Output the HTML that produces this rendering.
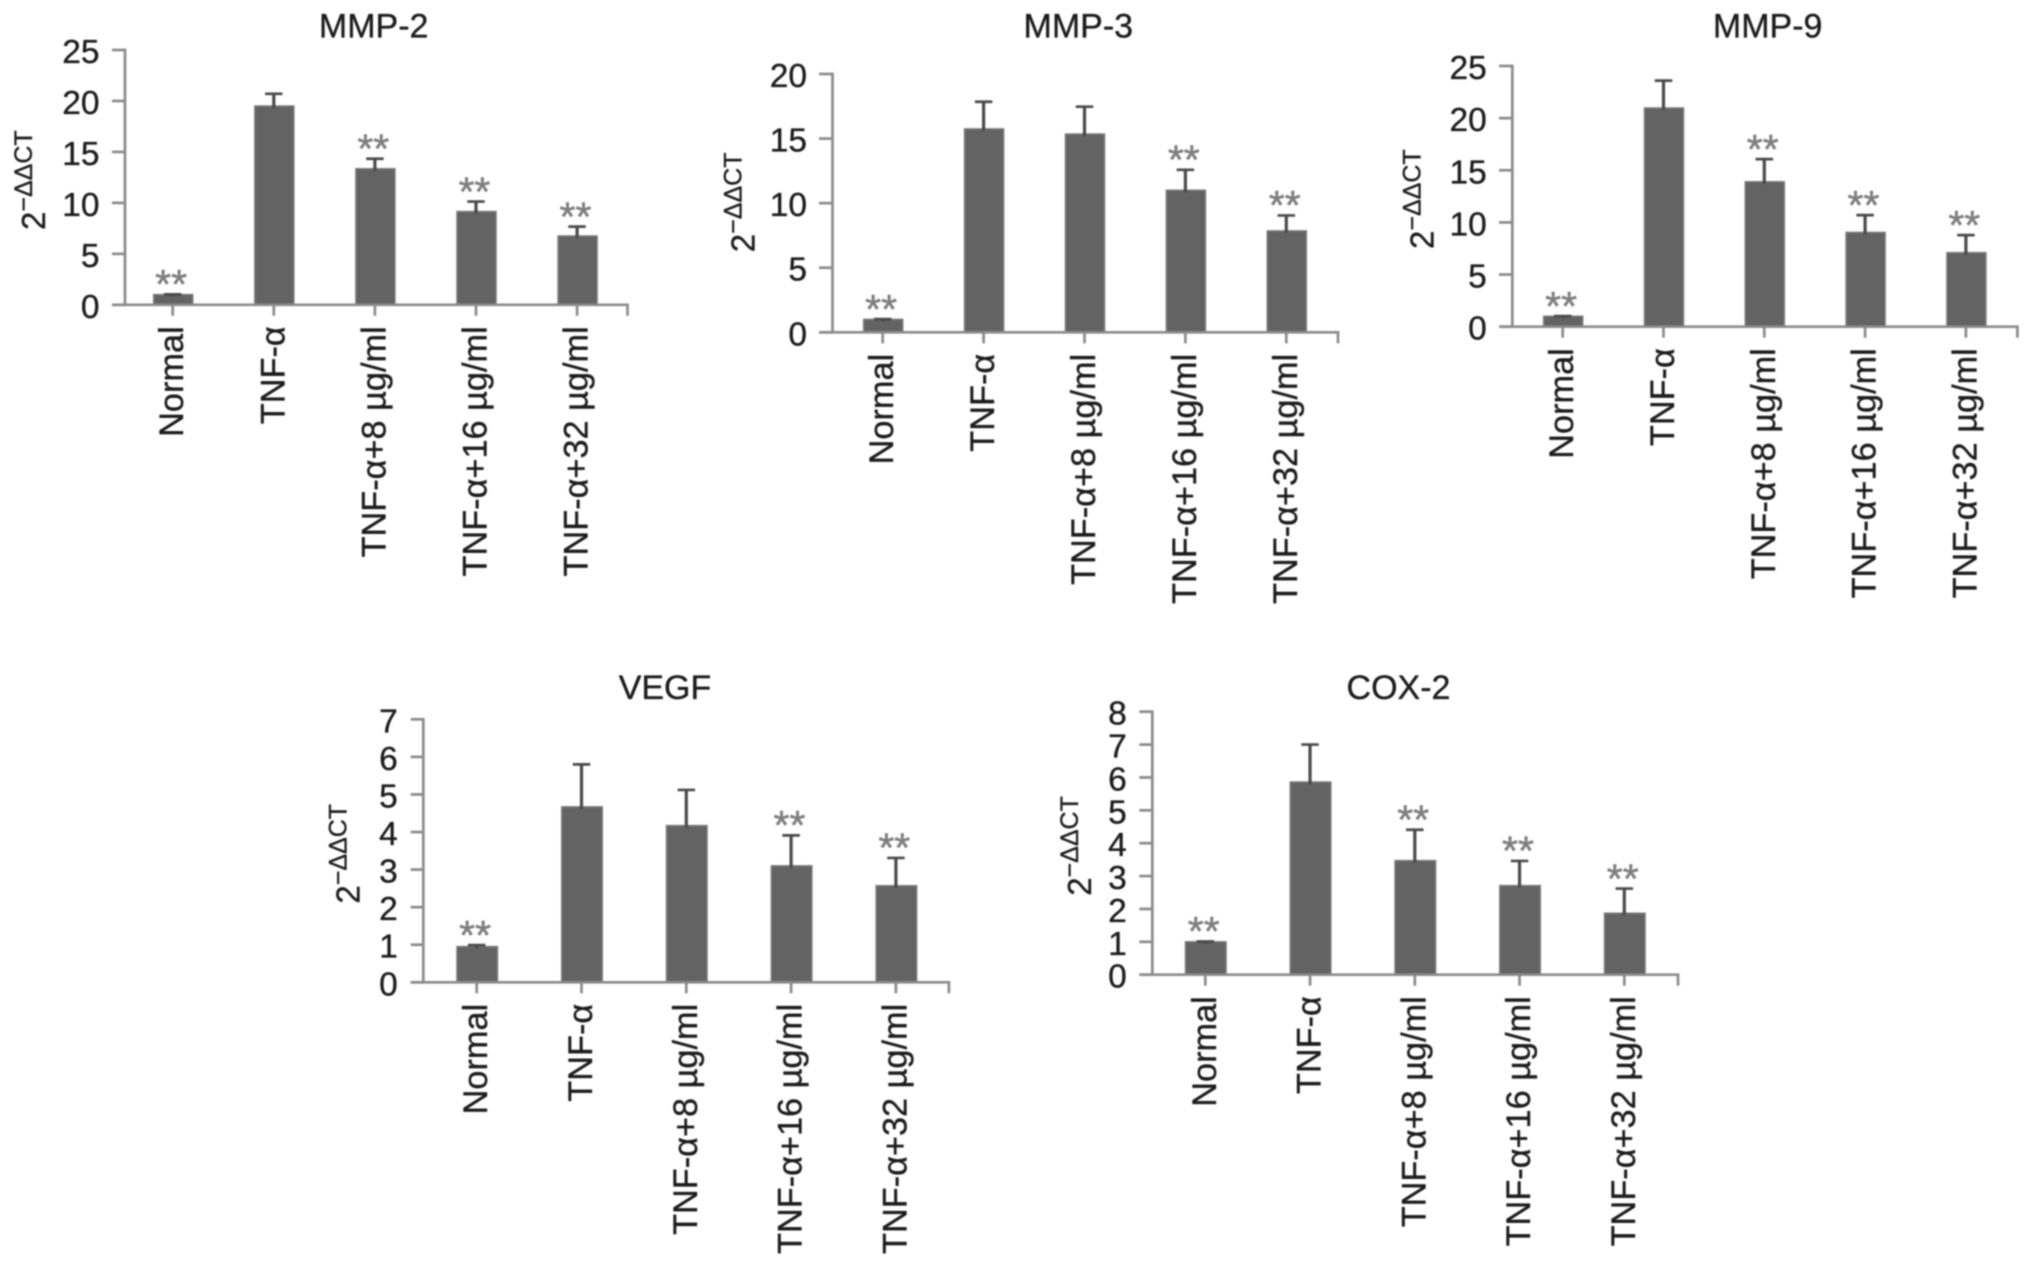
<!DOCTYPE html>
<html lang="en">
<head>
<meta charset="utf-8">
<title>Relative expression of MMP-2, MMP-3, MMP-9, VEGF and COX-2</title>
<style>
  html, body { margin: 0; padding: 0; background: #fff; }
  body { width: 2032px; height: 1267px; overflow: hidden; }
  #figure { display: block; filter: blur(0.7px); }
  text { font-family: "Liberation Sans", "DejaVu Sans", sans-serif; fill: #1c1c1c; stroke: #1c1c1c; stroke-width: 0.35px; }
</style>
</head>
<body>
<svg id="figure" xmlns="http://www.w3.org/2000/svg" width="2032" height="1267" viewBox="0 0 2032 1267">
  <rect x="0" y="0" width="2032" height="1267" fill="#ffffff"></rect>
</svg>
<script>
// ---- chart data ----
const categories = ['Normal', 'TNF-α', 'TNF-α+8 µg/ml', 'TNF-α+16 µg/ml', 'TNF-α+32 µg/ml'];

const mmp2Ticks = [0, 5, 10, 15, 20, 25];
const mmp2Means = [1.0, 19.5, 13.35, 9.15, 6.75];
const mmp2Errors = [0.02, 1.2, 0.98, 0.98, 0.92];
const mmp2Stars = [true, false, true, true, true];

const mmp3Ticks = [0, 5, 10, 15, 20];
const mmp3Means = [1.0, 15.75, 15.35, 11.0, 7.85];
const mmp3Errors = [0.02, 2.1, 2.12, 1.58, 1.2];
const mmp3Stars = [true, false, false, true, true];

const mmp9Ticks = [0, 5, 10, 15, 20, 25];
const mmp9Means = [1.0, 20.97, 13.9, 9.04, 7.1];
const mmp9Errors = [0.02, 2.63, 2.17, 1.66, 1.68];
const mmp9Stars = [true, false, true, true, true];

const vegfTicks = [0, 1, 2, 3, 4, 5, 6, 7];
const vegfMeans = [0.95, 4.67, 4.17, 3.1, 2.57];
const vegfErrors = [0.04, 1.13, 0.95, 0.81, 0.74];
const vegfStars = [true, false, false, true, true];

const cox2Ticks = [0, 1, 2, 3, 4, 5, 6, 7, 8];
const cox2Means = [1.0, 5.86, 3.47, 2.71, 1.87];
const cox2Errors = [0.01, 1.14, 0.94, 0.75, 0.75];
const cox2Stars = [true, false, true, true, true];

const titles = ['MMP-2', 'MMP-3', 'MMP-9', 'VEGF', 'COX-2'];

// ---- layout (pixel frames, separate from the data) ----
const frames = [
  { key: 'mmp2', axisX: 125, y0: 304.8, yTop: 50, tickLeft: 112, right: 627.5, firstTick: 172.7, step: 101.1, barW: 39, titleX: 373.7, titleY: 37.5, labelX: 45, labelY: 230 },
  { key: 'mmp3', axisX: 832.5, y0: 332.3, yTop: 74, tickLeft: 819, right: 1338, firstTick: 882.7, step: 100.9, barW: 39, titleX: 1078.3, titleY: 37.5, labelX: 754.6, labelY: 252.2 },
  { key: 'mmp9', axisX: 1512.3, y0: 326.7, yTop: 66, tickLeft: 1499, right: 2017.4, firstTick: 1562.7, step: 100.8, barW: 39, titleX: 1767.7, titleY: 37.5, labelX: 1433.7, labelY: 249 },
  { key: 'vegf', axisX: 423.3, y0: 982.3, yTop: 719.3, tickLeft: 410.7, right: 948.9, firstTick: 476.7, step: 104.8, barW: 40.5, titleX: 665, titleY: 699.2, labelX: 359.4, labelY: 903.6 },
  { key: 'cox2', axisX: 1152.3, y0: 974.7, yTop: 711.7, tickLeft: 1139.3, right: 1678, firstTick: 1205.3, step: 104.75, barW: 40.5, titleX: 1398.5, titleY: 699.2, labelX: 1091.1, labelY: 895.8 }
];
const seriesByPanel = [
  { ticks: mmp2Ticks, means: mmp2Means, errors: mmp2Errors, stars: mmp2Stars },
  { ticks: mmp3Ticks, means: mmp3Means, errors: mmp3Errors, stars: mmp3Stars },
  { ticks: mmp9Ticks, means: mmp9Means, errors: mmp9Errors, stars: mmp9Stars },
  { ticks: vegfTicks, means: vegfMeans, errors: vegfErrors, stars: vegfStars },
  { ticks: cox2Ticks, means: cox2Means, errors: cox2Errors, stars: cox2Stars }
];

const NS = 'http://www.w3.org/2000/svg';
const AXIS = '#8b8b8b';
const BAR = '#636363';
const BAR_EDGE = '#7a7a7a';
const ERR = '#4a4a4a';
const STAR = '#7e7e7e';
const CAP_W = 17.5;
const svg = document.getElementById('figure');

function make(tag, props, parent) {
  const el = document.createElementNS(NS, tag);
  Object.keys(props).forEach(function (k) { el.setAttribute(k, props[k]); });
  parent.appendChild(el);
  return el;
}

function drawPanel(frame, data, title) {
  const maxTick = data.ticks[data.ticks.length - 1];
  const yScale = function (v) { return frame.y0 - (v / maxTick) * (frame.y0 - frame.yTop); };
  const xScale = function (i) { return frame.firstTick + i * frame.step; };

  const g = make('g', {}, svg);
  
  

  const t = make('text', { x: frame.titleX, y: frame.titleY, 'text-anchor': 'middle', 'font-size': 34 }, g);
  t.textContent = title;
  
  

  const yl = make('text', { transform: 'translate(' + frame.labelX + ' ' + frame.labelY + ') rotate(-90)', 'font-size': 33 }, g);
  
  
  const base = make('tspan', {}, yl);
  base.textContent = '2';
  const sup = make('tspan', { dy: -13, 'font-size': 25 }, yl);
  sup.textContent = '−ΔΔCT';

  data.means.forEach(function (m, i) {
    const cx = xScale(i);
    const top = yScale(m);
    const errTop = yScale(m + data.errors[i]);

    const bar = make('rect', { x: cx - frame.barW / 2 + 0.5, y: top, width: frame.barW, height: frame.y0 - top, fill: BAR, stroke: BAR_EDGE, 'stroke-width': 1.5 }, g);
    
    

    const stem = make('line', { x1: cx, x2: cx, y1: top + 2, y2: errTop, stroke: ERR, 'stroke-width': 3.2 }, g);
    
    

    const cap = make('line', { x1: cx - CAP_W / 2, x2: cx + CAP_W / 2, y1: errTop, y2: errTop, stroke: ERR, 'stroke-width': 2.7 }, g);
    
    

    if (data.stars[i]) {
      const s = make('text', { x: cx - 1.6, y: errTop + 3.7, 'text-anchor': 'middle', 'font-size': 41, style: 'fill:' + STAR + ';stroke:' + STAR + ';stroke-width:0.5px' }, g);
      s.textContent = '**';
      
      
    }

    const c = make('text', { transform: 'translate(' + (cx + 10.5) + ' ' + (frame.y0 + 21.5) + ') rotate(-90)', 'text-anchor': 'end', 'font-size': 34.3 }, g);
    c.textContent = categories[i];
    
    

    const xt = make('line', { x1: cx, x2: cx, y1: frame.y0, y2: frame.y0 + 11, stroke: AXIS, 'stroke-width': 2.7 }, g);
    
    
  });

  const yAxis = make('line', { x1: frame.axisX, x2: frame.axisX, y1: frame.yTop - 1.35, y2: frame.y0 + 1.35, stroke: AXIS, 'stroke-width': 2.7 }, g);
  
  

  const xAxis = make('line', { x1: frame.tickLeft, x2: frame.right, y1: frame.y0, y2: frame.y0, stroke: AXIS, 'stroke-width': 2.7 }, g);
  
  

  const endTick = make('line', { x1: frame.right, x2: frame.right, y1: frame.y0 - 1.35, y2: frame.y0 + 11, stroke: AXIS, 'stroke-width': 2.7 }, g);
  
  

  data.ticks.forEach(function (v) {
    const y = yScale(v);
    const tick = make('line', { x1: frame.tickLeft, x2: frame.axisX, y1: y, y2: y, stroke: AXIS, 'stroke-width': 2.7 }, g);
    
    

    const lab = make('text', { x: frame.axisX - 25.5, y: y + 13, 'text-anchor': 'end', 'font-size': 33.5 }, g);
    lab.textContent = String(v);
    
    
  });
}

frames.forEach(function (frame, i) {
  drawPanel(frame, seriesByPanel[i], titles[i]);
});
</script>
</body>
</html>
